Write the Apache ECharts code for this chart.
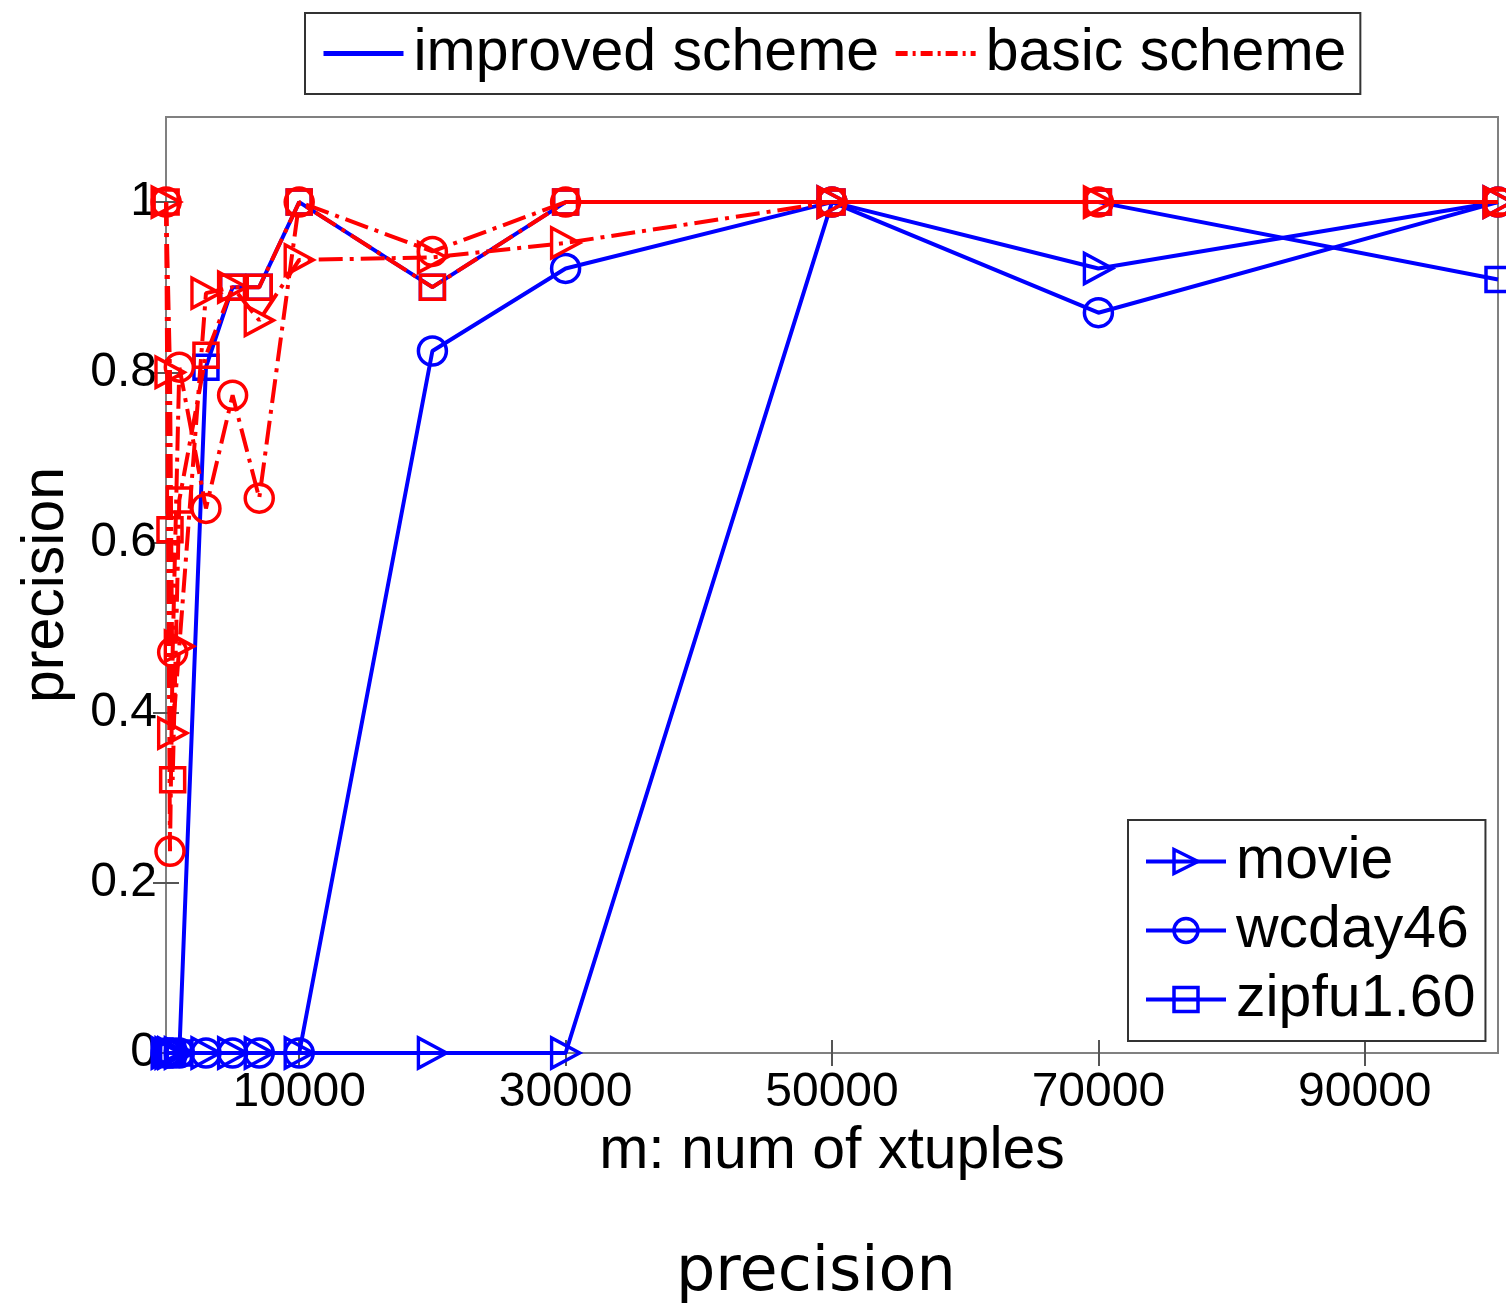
<!DOCTYPE html>
<html>
<head>
<meta charset="utf-8">
<script src="https://cdn.jsdelivr.net/npm/echarts@6/dist/echarts.min.js"></script>
<style>
html,body{margin:0;padding:0;background:#fff;}
#chart{width:1506px;height:1309px;}
</style>
</head>
<body>
<div id="chart"></div>
<script>
// ---- data ----
const xValues = [10, 300, 500, 1000, 3000, 5000, 7000, 10000, 20000, 30000, 50000, 70000, 100000];

// improved scheme (blue, solid)
const improvedMovie   = [0, 0, 0, 0, 0, 0, 0, 0, 0, 0, 1.0, 0.922, 1.0];
const improvedWcday46 = [0, 0, 0, 0, 0, 0, 0, 0, 0.825, 0.922, 1.0, 0.87, 1.0];
const improvedZipfu   = [0, 0, 0, 0, 0.806, 0.90, 0.90, 1.0, 0.90, 1.0, 1.0, 1.0, 0.909];

// basic scheme (red, dash-dot)
const basicMovie   = [1.0, 0.80, 0.376, 0.478, 0.893, 0.90, 0.861, 0.932, 0.935, 0.952, 1.0, 1.0, 1.0];
const basicWcday46 = [1.0, 0.237, 0.471, 0.806, 0.64, 0.773, 0.652, 1.0, 0.942, 1.0, 1.0, 1.0, 1.0];
const basicZipfu   = [1.0, 0.615, 0.321, 0.65, 0.82, 0.90, 0.90, 1.0, 0.90, 1.0, 1.0, 1.0, 1.0];

const xTickValues = [10000, 30000, 50000, 70000, 90000];
const yTickValues = [0, 0.2, 0.4, 0.6, 0.8, 1];

const datasetNames = ['movie', 'wcday46', 'zipfu1.60'];
const schemeNames = ['improved scheme', 'basic scheme'];
const chartTitle = 'precision';
const xAxisTitle = 'm: num of xtuples';
const yAxisTitle = 'precision';

// ---- build ----
const BLUE = '#0000ff';
const RED = '#ff0000';
const FONT = '"Liberation Sans", Arial, Helvetica, sans-serif';
const DASHDOT = [24, 7, 4, 7];

function pairs(ys) { return xValues.map((x, i) => [x, ys[i]]); }

const markerDefs = {
  movie: { symbol: 'triangle', symbolRotate: -90, symbolSize: [30, 28] },
  wcday46: { symbol: 'circle', symbolRotate: 0, symbolSize: 28 },
  'zipfu1.60': { symbol: 'rect', symbolRotate: 0, symbolSize: 24 }
};

function mkSeries(name, legendName, ys, color, dashed) {
  const m = markerDefs[legendName];
  return {
    name: name,
    type: 'line',
    data: pairs(ys),
    symbol: m.symbol,
    symbolRotate: m.symbolRotate,
    symbolSize: m.symbolSize,
    showAllSymbol: true,
    lineStyle: { color: color, width: 4, type: dashed ? DASHDOT : 'solid' },
    itemStyle: { color: 'rgba(0,0,0,0)', borderColor: color, borderWidth: 3.5 },
    emphasis: { disabled: true },
    animation: false,
    z: dashed ? 3 : 2
  };
}

const series = [
  mkSeries('movie', 'movie', improvedMovie, BLUE, false),
  mkSeries('wcday46', 'wcday46', improvedWcday46, BLUE, false),
  mkSeries('zipfu1.60', 'zipfu1.60', improvedZipfu, BLUE, false),
  mkSeries('movie basic', 'movie', basicMovie, RED, true),
  mkSeries('wcday46 basic', 'wcday46', basicWcday46, RED, true),
  mkSeries('zipfu1.60 basic', 'zipfu1.60', basicZipfu, RED, true),
  { name: schemeNames[0], type: 'line', data: [], symbol: 'none',
    lineStyle: { color: BLUE, width: 5, type: 'solid' },
    itemStyle: { color: 'rgba(0,0,0,0)', borderColor: 'rgba(0,0,0,0)', borderWidth: 0 } },
  { name: schemeNames[1], type: 'line', data: [], symbol: 'none',
    lineStyle: { color: RED, width: 4, type: [12, 5, 3, 5] },
    itemStyle: { color: 'rgba(0,0,0,0)', borderColor: 'rgba(0,0,0,0)', borderWidth: 0 } }
];

const axisColor = '#808080';
const grid = { left: 166, right: 8, top: 117, bottom: 256, show: true, borderColor: axisColor, borderWidth: 2, backgroundColor: '#fff', containLabel: false };

const plainNum = v => String(v);

const option = {
  animation: false,
  backgroundColor: '#fff',
  title: {
    text: chartTitle,
    left: 671, top: 1238,
    textStyle: { fontFamily: '"DejaVu Sans", sans-serif', fontSize: 62, fontWeight: 'normal', color: '#000' }
  },
  grid: grid,
  legend: [
    {
      data: schemeNames,
      orient: 'horizontal',
      left: 305, top: 13,
      padding: [11, 14, 11, 16],
      itemWidth: 80, itemHeight: 30, itemGap: 14,
      backgroundColor: '#fff', borderColor: '#333', borderWidth: 2,
      lineStyle: { width: 5 },
      itemStyle: { color: 'rgba(0,0,0,0)', borderWidth: 0 },
      textStyle: { fontFamily: FONT, fontSize: 59, color: '#000', padding: [0, 0, 0, 5] },
      selectedMode: false
    },
    {
      data: datasetNames,
      orient: 'vertical',
      left: 1128, top: 820,
      padding: [12, 10, 12, 16],
      itemWidth: 80, itemHeight: 30, itemGap: 10,
      backgroundColor: '#fff', borderColor: '#333', borderWidth: 2,
      lineStyle: { width: 4 },
      itemStyle: { borderWidth: 3.5 },
      textStyle: { fontFamily: FONT, fontSize: 59, color: '#000', padding: [0, 0, 0, 5] },
      selectedMode: false
    }
  ],
  xAxis: [
    {
      type: 'value', min: 0, max: 100000, position: 'bottom',
      name: xAxisTitle, nameLocation: 'middle', nameGap: 59,
      nameTextStyle: { fontFamily: FONT, fontSize: 59, color: '#000' },
      axisLine: { show: true, lineStyle: { color: axisColor, width: 2 } },
      axisTick: { show: true, inside: true, length: 13, customValues: xTickValues, lineStyle: { color: '#555', width: 2 } },
      axisLabel: { show: true, customValues: xTickValues, formatter: plainNum, margin: 16, fontFamily: FONT, fontSize: 48, color: '#000' },
      splitLine: { show: false }
    },
    {
      type: 'value', min: 0, max: 100000, position: 'top',
      axisLine: { show: true, lineStyle: { color: axisColor, width: 2 } },
      axisTick: { show: true, inside: true, length: 13, customValues: xTickValues, lineStyle: { color: '#555', width: 2 } },
      axisLabel: { show: false },
      splitLine: { show: false }
    }
  ],
  yAxis: [
    {
      type: 'value', min: 0, max: 1.1, position: 'left',
      name: yAxisTitle, nameLocation: 'middle', nameGap: 90, nameRotate: 90,
      nameTextStyle: { fontFamily: FONT, fontSize: 59, color: '#000' },
      axisLine: { show: true, lineStyle: { color: axisColor, width: 2 } },
      axisTick: { show: true, inside: true, length: 13, customValues: yTickValues, lineStyle: { color: '#555', width: 2 } },
      axisLabel: { show: true, customValues: yTickValues, margin: 9, fontFamily: FONT, fontSize: 48, color: '#000' },
      splitLine: { show: false }
    },
    {
      type: 'value', min: 0, max: 1.1, position: 'right',
      axisLine: { show: true, lineStyle: { color: axisColor, width: 2 } },
      axisTick: { show: true, inside: true, length: 13, customValues: yTickValues, lineStyle: { color: '#555', width: 2 } },
      axisLabel: { show: false },
      splitLine: { show: false }
    }
  ],
  series: series
};

const chart = echarts.init(document.getElementById('chart'), null, { renderer: 'canvas' });
chart.setOption(option);
</script>
</body>
</html>
